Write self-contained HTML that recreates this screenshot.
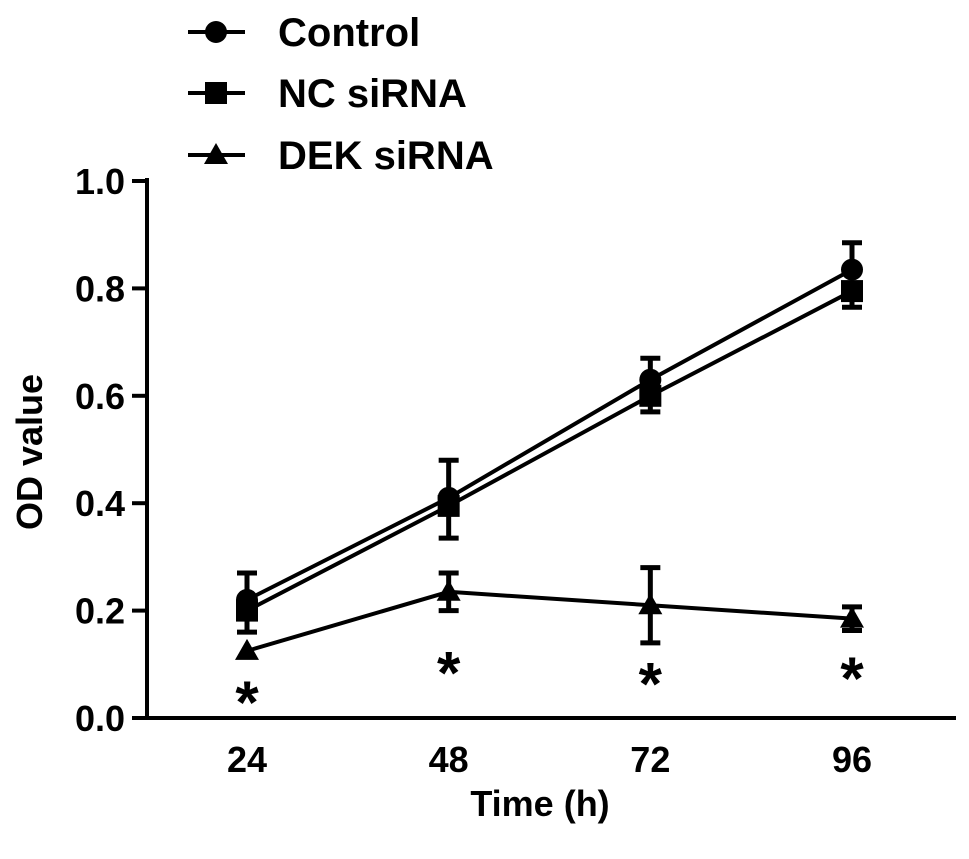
<!DOCTYPE html>
<html><head><meta charset="utf-8"><style>
html,body{margin:0;padding:0;background:#fff;}
svg{display:block;font-family:"Liberation Sans",Arial,sans-serif;font-weight:bold;}
</style></head><body>
<svg id="chart" width="969" height="859" viewBox="0 0 969 859" xmlns="http://www.w3.org/2000/svg"></svg>
<script>
const categories = ["24","48","72","96"];
const controlValues = [0.22, 0.41, 0.63, 0.835];
const controlErr = [0.05, 0.07, 0.04, 0.05];
const ncValues = [0.20, 0.395, 0.60, 0.795];
const ncErr = [0.04, 0.06, 0.03, 0.03];
const dekValues = [0.125, 0.235, 0.21, 0.185];
const dekErr = [0.0, 0.035, 0.07, 0.022];
const starValues = [0.05, 0.105, 0.085, 0.095];
const yTicks = [0, 0.2, 0.4, 0.6, 0.8, 1.0];
const yTickLabels = ["0.0","0.2","0.4","0.6","0.8","1.0"];

const svg = document.getElementById('chart');
const NS = 'http://www.w3.org/2000/svg';
function el(tag, attrs, parent){const e=document.createElementNS(NS,tag);for(const k in attrs)e.setAttribute(k,attrs[k]);(parent||svg).appendChild(e);return e;}
const y = v => 718 - v*537;
const xPos = [247,448,651,852];
const x = i => xPos[0] + i*((xPos[3]-xPos[0])/3);

let a = el('line',{x1:147,y1:178,x2:147,y2:720,stroke:'#000','stroke-width':4});
 
a = el('line',{x1:145,y1:718,x2:956,y2:718,stroke:'#000','stroke-width':4});
 
yTicks.forEach((v,i)=>{
  const t = el('line',{x1:132,y1:y(v),x2:147,y2:y(v),stroke:'#000','stroke-width':4});
   
  const l = el('text',{x:125,y:y(v)+13,'text-anchor':'end','font-size':36});
  l.textContent = yTickLabels[i];
   
});
categories.forEach((c,i)=>{
  const l = el('text',{x:x(i),y:772,'text-anchor':'middle','font-size':36});
  l.textContent = c;
   
});
let t = el('text',{x:540,y:816,'text-anchor':'middle','font-size':36}); t.textContent='Time (h)';
 
t = el('text',{x:0,y:0,'text-anchor':'middle','font-size':36,transform:'translate(42,452) rotate(-90)'}); t.textContent='OD value';
 

function marker(shape,cx,cy,g){
  let m;
  if(shape==='circle') m=el('circle',{cx:cx,cy:cy,r:11,fill:'#000'},g);
  else if(shape==='square') m=el('rect',{x:cx-11,y:cy-11,width:22,height:22,fill:'#000'},g);
  else m=el('polygon',{points:`${cx},${cy-12} ${cx-12},${cy+9} ${cx+12},${cy+9}`,fill:'#000'},g);
  return m;
}
function series(name,vals,errs,shape,dir){
  const g = el('g',{});
   
  const pts = vals.map((v,i)=>x(i)+','+y(v)).join(' ');
  const p = el('polyline',{points:pts,fill:'none',stroke:'#000','stroke-width':4},g);
   
  vals.forEach((v,i)=>{
    if(errs[i]>0){
      const e = y(v+dir*errs[i]);
      const eb = el('path',{d:`M${x(i)},${y(v)}V${e}M${x(i)-10},${e}H${x(i)+10}`,stroke:'#000','stroke-width':5,fill:'none'},g);
       
    }
    const m = marker(shape,x(i),y(v),g);
     
  });
}
function dekSeries(){
  const g = el('g',{});
   
  const pts = dekValues.map((v,i)=>x(i)+','+y(v)).join(' ');
  const p = el('polyline',{points:pts,fill:'none',stroke:'#000','stroke-width':4},g);
   
  dekValues.forEach((v,i)=>{
    if(dekErr[i]>0){
      const a1=y(v+dekErr[i]), b1=y(v-dekErr[i]);
      const eb = el('path',{d:`M${x(i)},${a1}V${b1}M${x(i)-10},${a1}H${x(i)+10}M${x(i)-10},${b1}H${x(i)+10}`,stroke:'#000','stroke-width':5,fill:'none'},g);
       
    }
    const m = marker('tri',x(i),y(v),g);
     
    const s = el('text',{x:x(i),y:y(starValues[i])+32,'text-anchor':'middle','font-size':60},g);
    s.textContent='*';
     
  });
}
series('nc-sirna',ncValues,ncErr,'square',-1);
series('control',controlValues,controlErr,'circle',1);
dekSeries();

const legend = el('g',{});
 
[["Control","circle",32],["NC siRNA","square",93],["DEK siRNA","tri",155]].forEach(([lab,sh,ly])=>{
  const g = el('g',{},legend);
   
  el('line',{x1:188,y1:ly,x2:245,y2:ly,stroke:'#000','stroke-width':4},g);
  marker(sh,216,ly,g);
  const tx = el('text',{x:278,y:ly+14,'font-size':40},g);
  tx.textContent = lab;
});
</script>
</body></html>
